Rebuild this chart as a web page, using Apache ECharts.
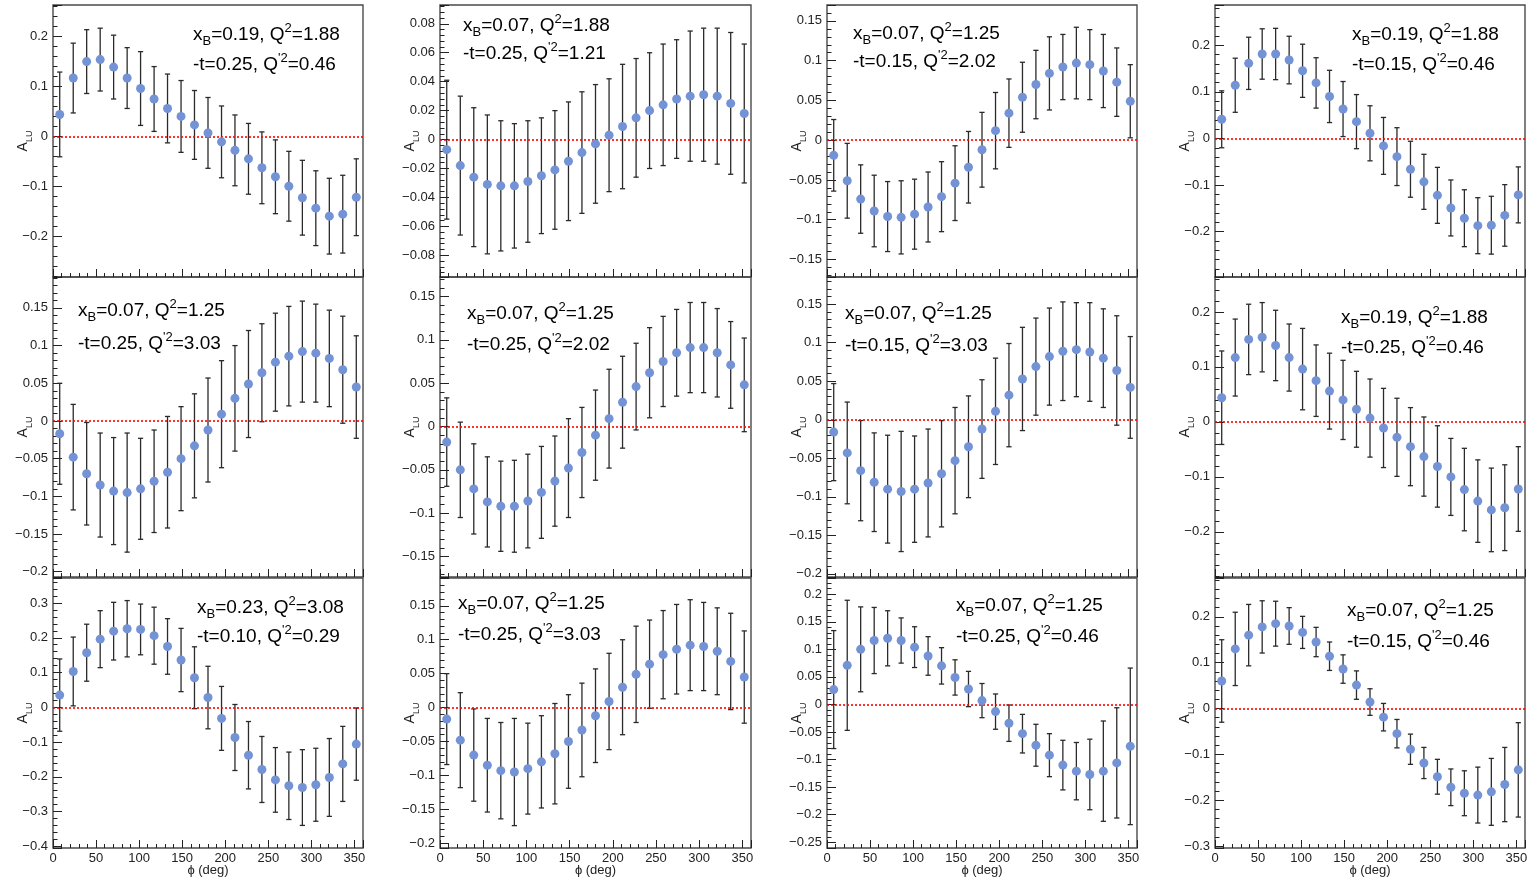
<!DOCTYPE html>
<html>
<head>
<meta charset="utf-8">
<script src="https://cdn.jsdelivr.net/npm/echarts@6/dist/echarts.min.js"></script>
<style>
  html, body { margin: 0; padding: 0; background: #ffffff; }
  #chart { width: 1539px; height: 883px; }
</style>
</head>
<body>
<div id="chart"></div>
<script>
// phi bin centres (deg), 23 bins over 0-360
const phiBins = [7.8, 23.5, 39.1, 54.8, 70.4, 86.1, 101.7, 117.4, 133.0, 148.7, 164.3, 180.0,
                 195.7, 211.3, 227.0, 242.6, 258.3, 273.9, 289.6, 305.2, 320.9, 336.5, 352.2];

// Beam-spin asymmetry A_LU and its uncertainty, one pair of arrays per kinematic bin
// kinematics: [xB, Q2, -t, Q'2]
const kinA = ['0.19', '1.88', '0.25', '0.46'];
const aluA = [0.044, 0.117, 0.150, 0.154, 0.139, 0.117, 0.096, 0.075, 0.056, 0.040, 0.023, 0.007,
              -0.011, -0.028, -0.045, -0.063, -0.081, -0.100, -0.123, -0.144, -0.160, -0.156, -0.122];
const errA = [0.085, 0.070, 0.064, 0.063, 0.064, 0.061, 0.074, 0.065, 0.069, 0.072, 0.069, 0.071,
              0.072, 0.071, 0.071, 0.072, 0.074, 0.070, 0.075, 0.075, 0.076, 0.078, 0.077];

const kinB = ['0.07', '1.88', '0.25', '1.21'];
const aluB = [-0.007, -0.018, -0.026, -0.031, -0.032, -0.032, -0.029, -0.025, -0.021, -0.015, -0.009, -0.003,
              0.003, 0.009, 0.015, 0.020, 0.024, 0.028, 0.030, 0.031, 0.030, 0.025, 0.018];
const errB = [0.048, 0.048, 0.048, 0.048, 0.045, 0.043, 0.042, 0.040, 0.041, 0.041, 0.042, 0.041,
              0.039, 0.043, 0.041, 0.040, 0.042, 0.041, 0.045, 0.046, 0.047, 0.049, 0.048];

const kinC = ['0.07', '1.25', '0.15', '2.02'];
const aluC = [-0.019, -0.051, -0.074, -0.089, -0.096, -0.097, -0.093, -0.084, -0.071, -0.054, -0.034, -0.012,
              0.012, 0.034, 0.054, 0.070, 0.084, 0.092, 0.097, 0.095, 0.087, 0.073, 0.049];
const errC = [0.045, 0.047, 0.043, 0.045, 0.044, 0.046, 0.044, 0.044, 0.044, 0.047, 0.045, 0.047,
              0.048, 0.043, 0.044, 0.043, 0.046, 0.041, 0.045, 0.044, 0.046, 0.043, 0.046];

const kinD = ['0.19', '1.88', '0.15', '0.46'];
const aluD = [0.041, 0.114, 0.161, 0.181, 0.181, 0.168, 0.145, 0.119, 0.090, 0.063, 0.036, 0.011,
              -0.016, -0.039, -0.066, -0.093, -0.122, -0.149, -0.171, -0.187, -0.186, -0.165, -0.121];
const errD = [0.061, 0.058, 0.056, 0.054, 0.055, 0.051, 0.057, 0.054, 0.056, 0.059, 0.058, 0.059,
              0.061, 0.062, 0.060, 0.059, 0.060, 0.060, 0.061, 0.060, 0.062, 0.066, 0.060];

const kinE = ['0.07', '1.25', '0.25', '3.03'];
const aluE = [-0.017, -0.048, -0.070, -0.085, -0.093, -0.095, -0.090, -0.080, -0.068, -0.050, -0.033, -0.012,
              0.009, 0.030, 0.049, 0.064, 0.078, 0.086, 0.092, 0.090, 0.083, 0.068, 0.045];
const errE = [0.067, 0.070, 0.068, 0.069, 0.071, 0.079, 0.067, 0.068, 0.074, 0.069, 0.069, 0.069,
              0.071, 0.070, 0.071, 0.065, 0.065, 0.066, 0.067, 0.065, 0.064, 0.071, 0.068];

const kinF = ['0.07', '1.25', '0.25', '2.02'];
const aluF = [-0.018, -0.050, -0.072, -0.087, -0.092, -0.092, -0.086, -0.076, -0.063, -0.048, -0.030, -0.010,
              0.009, 0.028, 0.046, 0.062, 0.075, 0.085, 0.091, 0.091, 0.085, 0.071, 0.048];
const errF = [0.051, 0.055, 0.052, 0.052, 0.052, 0.053, 0.054, 0.053, 0.052, 0.057, 0.052, 0.052,
              0.057, 0.053, 0.050, 0.052, 0.052, 0.050, 0.052, 0.052, 0.051, 0.050, 0.054];

const kinG = ['0.07', '1.25', '0.15', '3.03'];
const aluG = [-0.016, -0.043, -0.066, -0.081, -0.090, -0.093, -0.090, -0.082, -0.070, -0.053, -0.035, -0.012,
              0.011, 0.032, 0.053, 0.069, 0.082, 0.089, 0.091, 0.088, 0.080, 0.064, 0.042];
const errG = [0.063, 0.066, 0.065, 0.064, 0.070, 0.078, 0.069, 0.070, 0.069, 0.069, 0.066, 0.064,
              0.069, 0.067, 0.067, 0.063, 0.063, 0.064, 0.061, 0.064, 0.064, 0.071, 0.066];

const kinH = ['0.23', '3.08', '0.10', '0.29'];
const aluH = [0.035, 0.103, 0.157, 0.196, 0.219, 0.226, 0.224, 0.206, 0.175, 0.136, 0.085, 0.028,
              -0.032, -0.087, -0.138, -0.179, -0.209, -0.226, -0.231, -0.223, -0.202, -0.163, -0.106];
const errH = [0.104, 0.099, 0.082, 0.082, 0.083, 0.081, 0.073, 0.082, 0.080, 0.091, 0.089, 0.090,
              0.092, 0.095, 0.097, 0.095, 0.093, 0.097, 0.109, 0.105, 0.112, 0.108, 0.104];

const kinI = ['0.07', '1.25', '0.25', '0.46'];
const aluI = [0.027, 0.071, 0.100, 0.116, 0.120, 0.116, 0.104, 0.088, 0.070, 0.049, 0.028, 0.007,
              -0.013, -0.034, -0.053, -0.074, -0.092, -0.110, -0.121, -0.127, -0.121, -0.106, -0.076];
const errI = [0.107, 0.118, 0.077, 0.060, 0.050, 0.041, 0.037, 0.035, 0.033, 0.032, 0.032, 0.031,
              0.032, 0.033, 0.035, 0.038, 0.039, 0.045, 0.052, 0.064, 0.091, 0.100, 0.142];

const kinJ = ['0.07', '1.25', '0.15', '0.46'];
const aluJ = [0.060, 0.130, 0.160, 0.178, 0.185, 0.180, 0.166, 0.145, 0.114, 0.086, 0.051, 0.014,
              -0.019, -0.055, -0.089, -0.119, -0.149, -0.172, -0.185, -0.189, -0.182, -0.166, -0.134];
const errJ = [0.090, 0.080, 0.067, 0.057, 0.049, 0.040, 0.035, 0.032, 0.031, 0.031, 0.031, 0.029,
              0.030, 0.031, 0.033, 0.034, 0.038, 0.040, 0.049, 0.061, 0.073, 0.081, 0.103];

// y-axis ranges and major tick step for each pad (row-major, 3 rows x 4 columns)
const yRanges = [[-0.282, 0.2635], [-0.095, 0.093], [-0.172, 0.170], [-0.297, 0.286],
                 [-0.207, 0.191], [-0.1736, 0.1724], [-0.204, 0.1853], [-0.282, 0.2635],
                 [-0.405, 0.372], [-0.207, 0.191], [-0.2604, 0.2294], [-0.3045, 0.2847]];
const ySteps = [0.1, 0.02, 0.05, 0.1,
                0.05, 0.05, 0.05, 0.1,
                0.1, 0.05, 0.05, 0.1];
const xTickStep = 50;

// which kinematic bin goes in each pad
const padBins = [
  [kinA, aluA, errA], [kinB, aluB, errB], [kinC, aluC, errC], [kinD, aluD, errD],
  [kinE, aluE, errE], [kinF, aluF, errF], [kinG, aluG, errG], [kinA, aluA, errA],
  [kinH, aluH, errH], [kinE, aluE, errE], [kinI, aluI, errI], [kinJ, aluJ, errJ]
];

// ---- layout (pixels) ----
const colLeft = [53, 440, 827, 1215];
const colWidth = [310, 311, 310, 310];
const rowTop = [5, 277, 578];
const rowHeight = [272, 300, 270];
// text box: left x, centre y of first line, centre y of second line
const labelPos = [[193, 34.7, 65], [463, 26, 54], [853, 34, 62], [1352, 35, 65],
                  [78, 311, 344], [467, 314, 345], [845, 314, 346], [1341, 318, 348],
                  [197, 607.5, 637], [458, 604, 635], [956, 606, 637], [1347, 611, 642]];

const FONT = '"Liberation Sans", Arial, Helvetica, sans-serif';
const MARKER = '#7393d6';
const BAR = '#2a2a2a';

function decimals(step) {
  const s = String(step);
  return s.indexOf('.') < 0 ? 0 : s.split('.')[1].length;
}
function yFormatter(step) {
  const dec = decimals(step);
  return function (v) {
    const k = v / step;
    if (Math.abs(k - Math.round(k)) > 1e-6) return '';
    const s = String(parseFloat(v.toFixed(dec)));
    return s.replace('-', '\u2212');
  };
}

function renderErrorBar(params, api) {
  const x = api.value(0), v = api.value(1), e = api.value(2);
  const hi = api.coord([x, v + e]);
  const lo = api.coord([x, v - e]);
  const cap = 2.6;
  const st = { stroke: BAR, lineWidth: 1.3 };
  return {
    type: 'group',
    children: [
      { type: 'line', shape: { x1: hi[0], y1: hi[1], x2: lo[0], y2: lo[1] }, style: st },
      { type: 'line', shape: { x1: hi[0] - cap, y1: hi[1], x2: hi[0] + cap, y2: hi[1] }, style: st },
      { type: 'line', shape: { x1: lo[0] - cap, y1: lo[1], x2: lo[0] + cap, y2: lo[1] }, style: st }
    ]
  };
}

const grids = [], xAxes = [], yAxes = [], series = [], graphics = [];

const textRich = {
  n: { fontSize: 19, fontFamily: FONT, lineHeight: 26, fill: '#000' },
  sp: { fontSize: 13, fontFamily: FONT, lineHeight: 13, verticalAlign: 'top', fill: '#000' },
  sb: { fontSize: 13, fontFamily: FONT, lineHeight: 13, verticalAlign: 'bottom', fill: '#000' }
};

padBins.forEach(function (bin, i) {
  const row = Math.floor(i / 4), col = i % 4;
  const kin = bin[0], alu = bin[1], err = bin[2];
  const bottomRow = row === 2;

  grids.push({
    left: colLeft[col], top: rowTop[row], width: colWidth[col], height: rowHeight[row],
    show: true, borderColor: '#4a4a4a', borderWidth: 1.4, backgroundColor: 'transparent',
    containLabel: false, outerBoundsMode: 'none'
  });

  xAxes.push({
    type: 'value', gridIndex: i, min: 0, max: 360, interval: xTickStep,
    position: 'bottom',
    axisLine: { show: false, onZero: false },
    axisTick: { show: true, inside: true, length: 8, lineStyle: { color: '#222', width: 1 } },
    minorTick: { show: true, splitNumber: 5, length: 4, lineStyle: { color: '#222', width: 1 } },
    splitLine: { show: false },
    axisLabel: { show: bottomRow, margin: 4, color: '#222', fontSize: 13, fontFamily: FONT },
    name: bottomRow ? '\u03d5 (deg)' : '',
    nameLocation: 'middle', nameGap: 16,
    nameTextStyle: { color: '#222', fontSize: 13, fontFamily: FONT },
    nameMoveOverlap: false
  });

  const step = ySteps[i];
  yAxes.push({
    type: 'value', gridIndex: i, min: yRanges[i][0], max: yRanges[i][1],
    minInterval: step, maxInterval: step,
    position: 'left',
    axisLine: { show: false, onZero: false },
    axisTick: { show: true, inside: true, length: 9, lineStyle: { color: '#222', width: 1 } },
    minorTick: { show: true, splitNumber: 5, length: 4.5, lineStyle: { color: '#222', width: 1 } },
    splitLine: { show: false },
    axisLabel: { show: true, margin: 5, color: '#222', fontSize: 13, fontFamily: FONT,
                 formatter: yFormatter(step) },
    name: '{a|A}{s|LU}',
    nameLocation: 'middle', nameRotate: 90, nameGap: 19,
    nameMoveOverlap: false,
    nameTextStyle: {
      color: '#222', fontFamily: FONT,
      rich: {
        a: { fontSize: 14, lineHeight: 18, verticalAlign: 'top', fontFamily: FONT, color: '#222' },
        s: { fontSize: 9, lineHeight: 10, verticalAlign: 'bottom', fontFamily: FONT, color: '#222' }
      }
    }
  });

  const barData = phiBins.map(function (p, k) { return [p, alu[k], err[k]]; });
  const ptData = phiBins.map(function (p, k) { return [p, alu[k]]; });

  series.push({
    type: 'custom', xAxisIndex: i, yAxisIndex: i, data: barData,
    renderItem: renderErrorBar, encode: { x: 0, y: 1 }, clip: true, z: 2, silent: true,
    markLine: {
      silent: true, symbol: 'none', label: { show: false },
      lineStyle: { color: '#ff0000', type: [2, 2], width: 1.6 },
      data: [{ yAxis: 0 }], z: 3
    }
  });
  series.push({
    type: 'scatter', xAxisIndex: i, yAxisIndex: i, data: ptData,
    symbol: 'circle', symbolSize: 9, itemStyle: { color: MARKER, opacity: 1 },
    z: 4, silent: true
  });

  const pos = labelPos[i];
  graphics.push({
    type: 'text', x: pos[0], y: pos[1], silent: true,
    style: {
      text: '{n|x}{sb|B}{n|=' + kin[0] + ', Q}{sp|2}{n|=' + kin[1] + '}',
      rich: textRich, align: 'left', verticalAlign: 'middle'
    }
  });
  graphics.push({
    type: 'text', x: pos[0], y: pos[2], silent: true,
    style: {
      text: '{n|-t=' + kin[2] + ', Q}{sp|\'2}{n|=' + kin[3] + '}',
      rich: textRich, align: 'left', verticalAlign: 'middle'
    }
  });
});

const chart = echarts.init(document.getElementById('chart'), null, { renderer: 'canvas' });
chart.setOption({
  animation: false,
  backgroundColor: '#ffffff',
  grid: grids,
  xAxis: xAxes,
  yAxis: yAxes,
  series: series,
  graphic: graphics
});
</script>
</body>
</html>
